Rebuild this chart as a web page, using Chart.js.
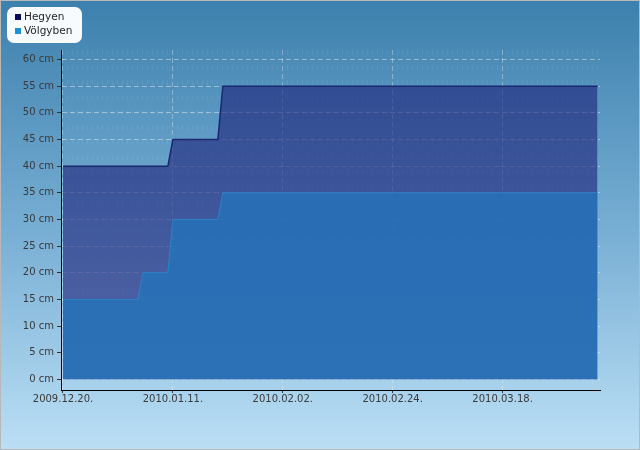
<!DOCTYPE html>
<html>
<head>
<meta charset="utf-8">
<script src="https://cdn.jsdelivr.net/npm/chart.js@4/dist/chart.umd.min.js"></script>
<style>
  html, body { margin: 0; padding: 0; background: #fff; }
  #wrap { width: 640px; height: 450px; }
</style>
</head>
<body>
<div id="wrap"><canvas id="hoChart" width="640" height="450"></canvas></div>
<script>
// snow depth, cm
var hegyenDates = ['2009.12.20', '2010.01.10', '2010.01.11', '2010.01.20', '2010.01.21', '2010.04.06'];
var hegyenCm = [40, 40, 45, 45, 55, 55];
var volgybenDates = ['2009.12.20', '2010.01.04', '2010.01.05', '2010.01.10', '2010.01.11', '2010.01.20', '2010.01.21', '2010.04.06'];
var volgybenCm = [15, 15, 20, 20, 30, 30, 35, 35];
var seriesNames = ['Hegyen', 'Völgyben'];
var xTickLabels = ['2009.12.20.', '2010.01.11.', '2010.02.02.', '2010.02.24.', '2010.03.18.'];
var yTickValues = [0, 5, 10, 15, 20, 25, 30, 35, 40, 45, 50, 55, 60];

var start = Date.UTC(2009, 11, 20);
function dayOf(s) {
    var p = s.replace(/\.$/, '').split('.');
    return Math.round((Date.UTC(+p[0], +p[1] - 1, +p[2]) - start) / 86400000);
}
function points(dates, vals) {
    return dates.map(function (d, i) { return {x: dayOf(d), y: vals[i]}; });
}
var majorDays = xTickLabels.map(dayOf);
var lastDay = dayOf(hegyenDates[hegyenDates.length - 1]);

var font = {family: 'DejaVu Sans', size: 10};
var colors = {
    hegyenFill: 'rgba(28, 32, 120, 0.6)',
    hegyenLine: '#1b2870',
    hegyenKey: '#0c0c5e',
    volgyFill: 'rgba(38, 114, 184, 0.85)',
    volgyLine: '#2e82c8',
    volgyKey: '#1e90d8'
};

var bgPlugin = {
    id: 'bg',
    beforeDraw: function (chart) {
        var c = chart.ctx;
        var g = c.createLinearGradient(0, 0, 0, chart.height);
        g.addColorStop(0, '#3c80ad');
        g.addColorStop(0.5, '#76add3');
        g.addColorStop(1, '#bbdff5');
        c.save();
        c.fillStyle = g;
        c.fillRect(0, 0, chart.width, chart.height);
        c.strokeStyle = '#b8b8b8';
        c.lineWidth = 1;
        c.strokeRect(0.5, 0.5, chart.width - 1, chart.height - 1);
        c.restore();
    }
};

var keyPlugin = {
    id: 'key',
    afterDraw: function (chart) {
        var c = chart.ctx;
        c.save();
        c.fillStyle = '#f8fbfe';
        c.beginPath();
        c.roundRect(7, 7, 75, 36, 7);
        c.fill();
        var keys = [colors.hegyenKey, colors.volgyKey];
        c.font = '10.5px "DejaVu Sans"';
        c.textBaseline = 'middle';
        seriesNames.forEach(function (name, i) {
            var y = 17 + i * 14;
            c.fillStyle = keys[i];
            c.fillRect(15, y - 3, 6, 6);
            c.fillStyle = '#1e1e1e';
            c.fillText(name, 24, y);
        });
        c.restore();
    }
};

new Chart(document.getElementById('hoChart'), {
    type: 'line',
    data: {
        datasets: [{
            label: seriesNames[0],
            data: points(hegyenDates, hegyenCm),
            backgroundColor: colors.hegyenFill,
            borderColor: colors.hegyenLine,
            borderWidth: 1.5,
            fill: 'origin',
            order: 1
        }, {
            label: seriesNames[1],
            data: points(volgybenDates, volgybenCm),
            backgroundColor: colors.volgyFill,
            borderColor: colors.volgyLine,
            borderWidth: 1,
            fill: 'origin',
            order: 0
        }]
    },
    options: {
        responsive: false,
        animation: false,
        devicePixelRatio: 1,
        layout: {padding: {top: 50, right: 40, bottom: 0, left: 0}},
        elements: {point: {radius: 0}, line: {tension: 0}},
        plugins: {legend: {display: false}, tooltip: {enabled: false}},
        scales: {
            x: {
                type: 'linear',
                min: -0.4,
                max: lastDay + 0.5,
                afterBuildTicks: function (scale) {
                    var t = [];
                    for (var d = 0; d <= lastDay; d++) t.push({value: d});
                    scale.ticks = t;
                },
                afterFit: function (scale) { scale.height = 60; },
                ticks: {
                    autoSkip: false,
                    maxRotation: 0,
                    padding: 0,
                    font: font,
                    color: '#3a3a3a',
                    callback: function (v) {
                        var i = majorDays.indexOf(v);
                        return i >= 0 ? xTickLabels[i] : '';
                    }
                },
                grid: {
                    tickLength: 3,
                    color: function (ctx) {
                        return ctx.tick && majorDays.indexOf(ctx.tick.value) >= 0 ? 'rgba(255,255,255,0.32)' : 'rgba(255,255,255,0.07)';
                    },
                    tickColor: function (ctx) {
                        return ctx.tick && majorDays.indexOf(ctx.tick.value) >= 0 ? '#333' : 'rgba(0,0,0,0)';
                    }
                },
                border: {
                    color: '#000',
                    width: 1,
                    dash: function (ctx) {
                        return ctx.tick && majorDays.indexOf(ctx.tick.value) >= 0 ? [5, 3] : [5, 10];
                    }
                }
            },
            y: {
                min: -2,
                max: 61.8,
                afterBuildTicks: function (scale) {
                    scale.ticks = yTickValues.map(function (v) { return {value: v}; });
                },
                afterFit: function (scale) { scale.width = 61; },
                ticks: {
                    padding: 3,
                    font: font,
                    color: '#3a3a3a',
                    callback: function (v) { return v + ' cm'; }
                },
                grid: {
                    tickLength: 4,
                    color: 'rgba(255,255,255,0.42)',
                    tickColor: '#333'
                },
                border: {color: '#000', width: 1, dash: [5, 3]}
            }
        }
    },
    plugins: [bgPlugin, keyPlugin]
});
</script>
</body>
</html>
